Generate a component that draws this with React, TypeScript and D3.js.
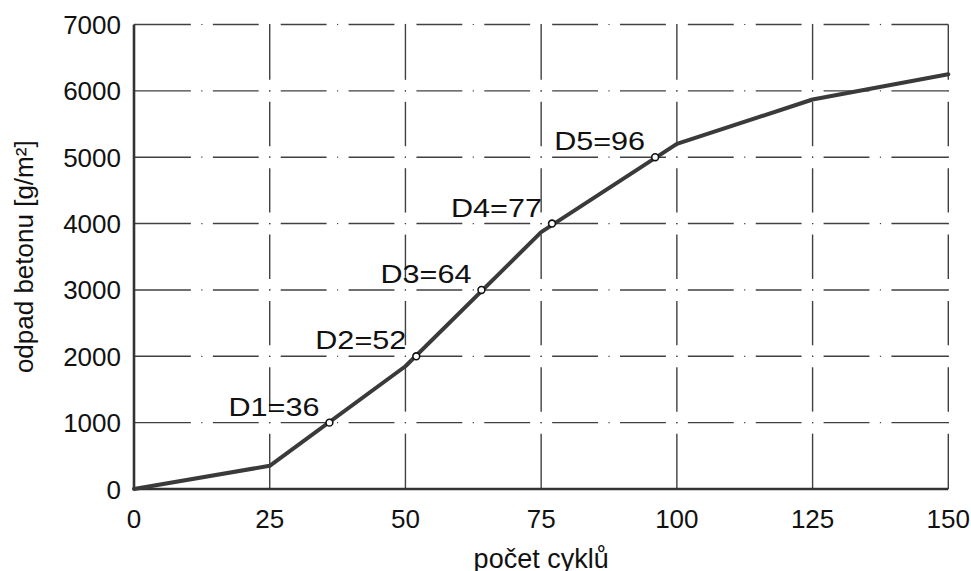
import React, { useEffect } from "react";
import * as d3 from "d3";

const cycles = [0, 25, 50, 75, 100, 125, 150];
const loss = [0, 350, 1850, 3870, 5200, 5870, 6250];
const dNames = ["D1", "D2", "D3", "D4", "D5"];
const dCycles = [36, 52, 64, 77, 96];
const dLoss = [1000, 2000, 3000, 4000, 5000];
const xTicks = [0, 25, 50, 75, 100, 125, 150];
const yTicks = [0, 1000, 2000, 3000, 4000, 5000, 6000, 7000];
const xTitle = "počet cyklů";
const yTitle = "odpad betonu [g/m²]";

const W = 971;
const H = 571;
const FONT = "'Liberation Sans', Arial, Helvetica, sans-serif";

export default function App() {
  useEffect(() => {
    document.body.style.margin = "0";
  }, []);

  const x = d3.scaleLinear().domain([0, 150]).range([134, 948.3]);
  const y = d3.scaleLinear().domain([0, 7000]).range([489, 24.5]);

  const line = d3
    .line<number>()
    .x((_, i) => x(cycles[i]))
    .y((d) => y(d));

  const gap = 11;
  const gridColor = "#404040";
  const gridW = 1.4;

  // horizontal grid lines (dash-dot), dots at every half interval
  const hDotPos = d3.range(0, 150.001, 12.5);
  const hLines = yTicks.filter((v) => v > 0);
  const hSegs: { x1: number; x2: number; y: number }[] = [];
  const hDots: { x: number; y: number }[] = [];
  hLines.forEach((v) => {
    for (let i = 0; i < hDotPos.length - 1; i++) {
      const a = x(hDotPos[i]);
      const b = x(hDotPos[i + 1]);
      const x1 = i === 0 ? a : a + gap;
      const x2 = i === hDotPos.length - 2 ? b : b - gap;
      hSegs.push({ x1, x2, y: y(v) });
      if (i > 0) hDots.push({ x: a, y: y(v) });
    }
  });

  // vertical grid lines
  const vLines = xTicks.filter((v) => v > 0);
  const vSegs: { y1: number; y2: number; x: number }[] = [];
  const vDots: { x: number; y: number }[] = [];
  vLines.forEach((v) => {
    for (let i = 0; i < yTicks.length - 1; i++) {
      const a = y(yTicks[i]);
      const b = y(yTicks[i + 1]);
      const y1 = i === 0 ? a : a - gap;
      const y2 = i === yTicks.length - 2 ? b : b + gap;
      vSegs.push({ y1, y2, x: x(v) });
      if (i > 0) vDots.push({ x: x(v), y: a });
    }
  });

  return (
    <svg
      width={W}
      height={H}
      viewBox={`0 0 ${W} ${H}`}
      style={{ display: "block", background: "#fff" }}
      fontFamily={FONT}
    >
      <rect x={0} y={0} width={W} height={H} fill="#fff" />
      <g stroke={gridColor} strokeWidth={gridW} fill="none">
        {hSegs.map((s, i) => (
          <line key={"hs" + i} x1={s.x1} x2={s.x2} y1={s.y} y2={s.y} />
        ))}
        {hDots.map((d, i) => (
          <line key={"hd" + i} x1={d.x - 0.6} x2={d.x + 0.6} y1={d.y} y2={d.y} strokeWidth={1.2} />
        ))}
        {vSegs.map((s, i) => (
          <line key={"vs" + i} x1={s.x} x2={s.x} y1={s.y1} y2={s.y2} />
        ))}
        {vDots.map((d, i) => (
          <line key={"vd" + i} x1={d.x} x2={d.x} y1={d.y - 0.6} y2={d.y + 0.6} strokeWidth={1.2} />
        ))}
      </g>
      {/* axes */}
      <g stroke="#333" strokeWidth={2.6} fill="none">
        <line x1={x(0)} x2={x(0)} y1={y(7000)} y2={y(0)} />
        <line x1={x(0)} x2={x(150)} y1={y(0)} y2={y(0)} />
      </g>
      {/* data line */}
      <path
        d={line(loss) || ""}
        fill="none"
        stroke="#3a3a3a"
        strokeWidth={4}
        strokeLinejoin="round"
        strokeLinecap="round"
      />
      {/* markers */}
      {dCycles.map((c, i) => (
        <circle
          key={"m" + i}
          cx={x(c)}
          cy={y(dLoss[i])}
          r={3.4}
          fill="#fff"
          stroke="#111"
          strokeWidth={1.6}
        />
      ))}
      {/* D labels */}
      {dCycles.map((c, i) => (
        <text
          key={"dl" + i}
          x={x(c) - 101}
          y={y(dLoss[i]) - 7}
          fontSize={25}
          fill="#111"
          textLength={91}
          lengthAdjust="spacingAndGlyphs"
        >
          {`${dNames[i]}=${c}`}
        </text>
      ))}
      {/* y tick labels */}
      {yTicks.map((t) => (
        <text
          key={"yt" + t}
          x={121}
          y={y(t) + 9.5}
          fontSize={26}
          textAnchor="end"
          fill="#111"
        >
          {t}
        </text>
      ))}
      {/* x tick labels */}
      {xTicks.map((t) => (
        <text
          key={"xt" + t}
          x={x(t)}
          y={528}
          fontSize={26}
          textAnchor="middle"
          fill="#111"
        >
          {t}
        </text>
      ))}
      <text
        x={(x(0) + x(150)) / 2}
        y={568}
        fontSize={27}
        textAnchor="middle"
        fill="#111"
      >
        {xTitle}
      </text>
      <text
        transform={`translate(33, ${(y(0) + y(7000)) / 2}) rotate(-90)`}
        fontSize={26}
        textAnchor="middle"
        fill="#111"
      >
        {yTitle}
      </text>
    </svg>
  );
}
